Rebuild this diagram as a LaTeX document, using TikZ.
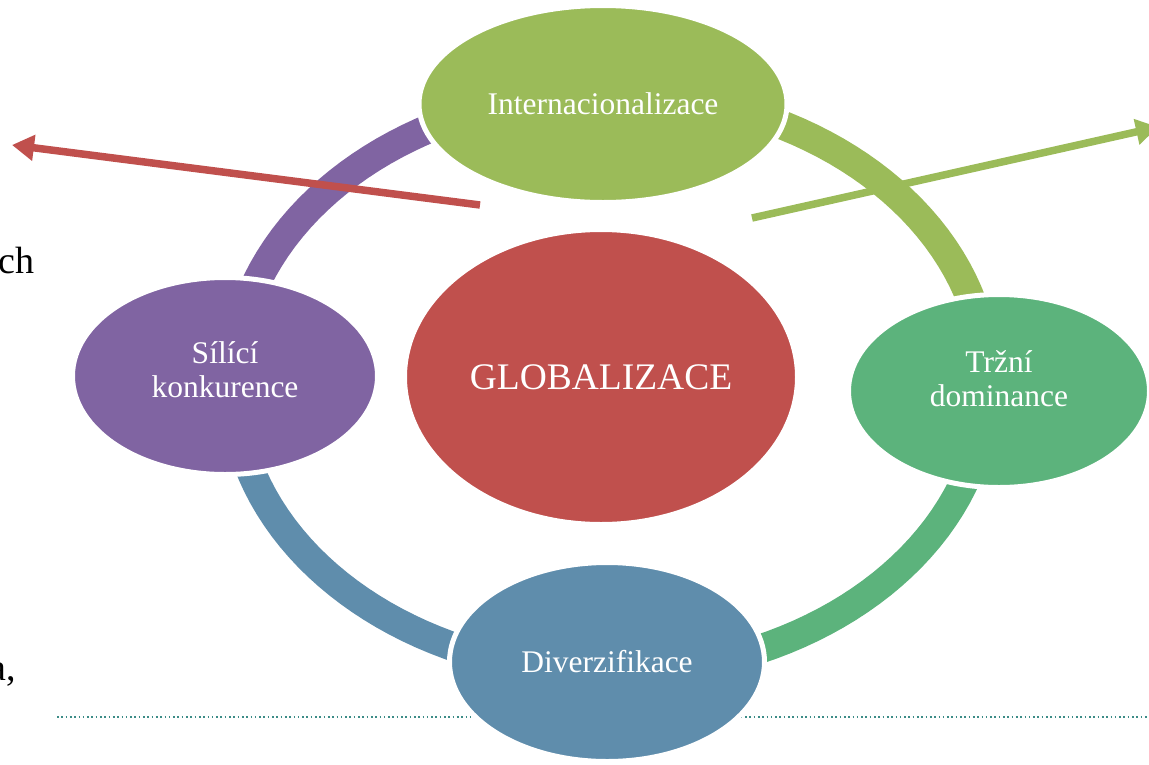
\documentclass[tikz,border=0pt]{standalone}
\usepackage{fontspec}
\setmainfont{Liberation Serif}
\usepackage{xcolor}
\usetikzlibrary{shapes,arrows.meta,calc}

\definecolor{accgreen}{RGB}{155,187,89}
\definecolor{accred}{RGB}{192,80,77}
\definecolor{accpurple}{RGB}{128,100,162}
\definecolor{accteal}{RGB}{92,179,124}
\definecolor{accblue}{RGB}{95,141,172}
\definecolor{dotline}{RGB}{60,140,135}

% two lines of text, drawn a little above the centre
\newcommand{\twolines}[3][8pt]{\raisebox{#1}[\height][\depth]{\begin{tabular}{@{}c@{}}#2\\#3\end{tabular}}}

\tikzset{
  bubble/.style={ellipse, draw=white, line width=5pt, text=white, align=center,
    inner sep=0pt, font=\fontsize{31.5}{34}\selectfont},
  ringpart/.style={line width=29pt},
  bigarrow/.style={line width=7.5pt, -{Triangle[length=22pt,width=25pt]}},
  slidetext/.style={inner sep=0pt, font=\fontsize{38}{42}\selectfont}
}

\begin{document}
\begin{tikzpicture}[x=1pt,y=1pt,yscale=-1]
  \useasboundingbox (0,0) rectangle (1149,764);

  %Straight Lines: dotted rule
  \coordinate (ruleL) at (57,717);
  \coordinate (ruleR) at (1149,717);
  \draw [dotline, line width=1.6pt, dash pattern={on 1.6pt off 2.7pt}] (ruleL) -- (ruleR);

  %Curve Lines: ring segments
  \draw [ringpart, accpurple] plot[domain=90:180, samples=40] ({610+377*cos(\x)}, {383-290*sin(\x)});
  \draw [ringpart, accgreen] plot[domain=0:90, samples=40] ({610+377*cos(\x)}, {383-290*sin(\x)});
  \draw [ringpart, accteal] plot[domain=-90:0, samples=40] ({610+377*cos(\x)}, {383-290*sin(\x)});
  \draw [ringpart, accblue] plot[domain=180:270, samples=40] ({610+377*cos(\x)}, {383-290*sin(\x)});

  %Straight Lines: arrows
  \coordinate (redtail) at (480,205);
  \coordinate (redtip) at (12,145);
  \draw [bigarrow, accred] (redtail) -- (redtip);
  \coordinate (greentail) at (752,218);
  \coordinate (greentip) at (1158,127);
  \draw [bigarrow, accgreen] (greentail) -- (greentip);

  %Shape: Ellipses
  \node [bubble, fill=accgreen, minimum width=368, minimum height=197] (intl) at (603,104) {Internacionalizace};
  \node [bubble, fill=accpurple, minimum width=305, minimum height=197] (konk) at (225,376) {\twolines[2pt]{Sílící}{konkurence}};
  \node [bubble, fill=accteal, minimum width=301, minimum height=193] (domi) at (999,391) {\twolines{Tržní}{dominance}};
  \node [bubble, fill=accblue, minimum width=315, minimum height=199] (dive) at (607,662) {Diverzifikace};
  \node [bubble, fill=accred, minimum width=393, minimum height=295,
    font=\fontsize{37.5}{40}\selectfont] (glob) at (601,377) {GLOBALIZACE};

  % Text Node
  \node [slidetext, anchor=base west] (txtch) at (-2,273) {ch};
  % Text Node
  \node [slidetext, anchor=base east] (txta) at (16,680) {a,};

\end{tikzpicture}
\end{document}
